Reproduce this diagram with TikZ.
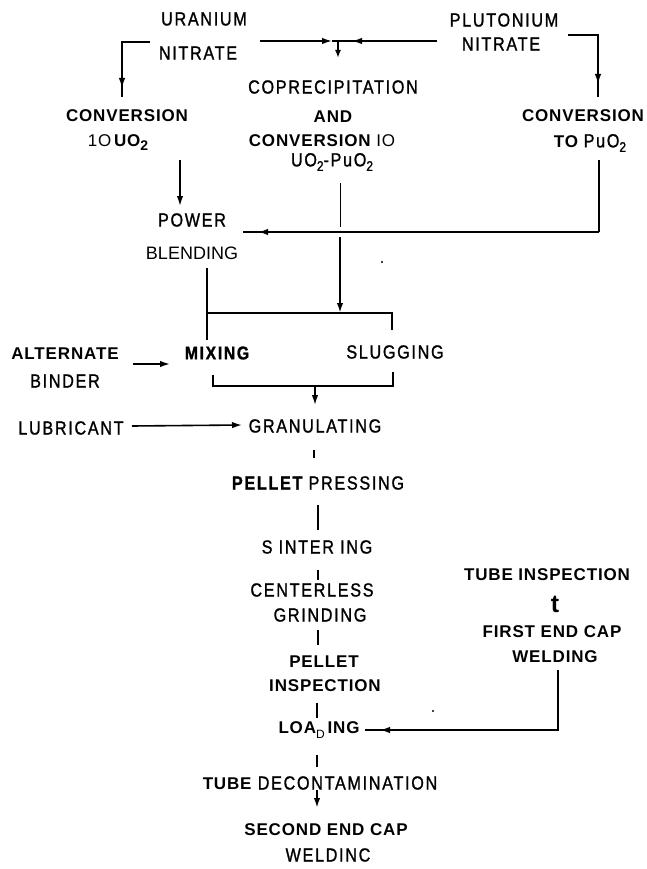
\documentclass[tikz,border=0pt]{standalone}
\usepackage{fontspec}
\setmainfont{Liberation Sans}
\newfontfamily\condf[FakeStretch=0.85,LetterSpace=9,FakeBold=1.2]{Liberation Sans}
\newfontfamily\bldf[LetterSpace=5]{Liberation Sans}
\usetikzlibrary{arrows.meta}
\newcommand{\subtwo}{\raisebox{-0.45ex}{\fontsize{14}{14}\selectfont 2}}
\begin{document}
\begin{tikzpicture}[x=1pt,y=-1pt,
 cnd/.style={inner sep=0pt, font=\condf\fontsize{19}{21}\selectfont},
 cndb/.style={inner sep=0pt, font=\condf\bfseries\fontsize{18.5}{21}\selectfont},
 bd/.style={inner sep=0pt, font=\bldf\bfseries\fontsize{17}{19}\selectfont},
 rg/.style={inner sep=0pt, font=\fontsize{18}{20}\selectfont},
 ln/.style={line width=1.6pt},
 thk/.style={line width=2.4pt},
 thn/.style={line width=1pt},
 tip/.style={-{Latex[length=10pt,width=6.5pt]}}
]
\fill[white] (0,0) rectangle (646,869);
\useasboundingbox (0,0) rectangle (646,869);

% ---- nodes
\node[cnd] (un1) at (204,19) {URANIUM};
\node[cnd] (un2) at (198,53) {NITRATE};
\node[bd] (cv1) at (127,116) {CONVERSION};
\node[bd] (cv1b) at (118,143) {\mdseries 1O\,\bfseries UO\subtwo};
\node[cnd] (cp1) at (333,87) {COPRECIPITATION};
\node[bd] (cp2) at (333,117) {AND};
\node[bd] (cp3) at (322,141) {CONVERSION \mdseries IO};
\node[cnd] (cp4) at (332,162) {UO\subtwo-PuO\subtwo};
\node[cnd] (pn1) at (504,20) {PLUTONIUM};
\node[cnd] (pn2) at (501,44) {NITRATE};
\node[bd] (cv2) at (583,116) {CONVERSION};
\node[bd] (cv2b) at (590,143) {TO {\condf\mdseries\fontsize{19}{21}\selectfont PuO\subtwo}};
\node[cnd] (pow) at (192,220) {POWER};
\node[rg] (bln) at (192,253) {BLENDING};
\node[bd] (alt) at (65,354) {ALTERNATE};
\node[cnd] (bnd) at (65,381) {BINDER};
\node[cndb] (mix) at (217,353) {MIXING};
\node[cnd] (slg) at (395,352) {SLUGGING};
\node[cnd] (lub) at (71,428) {LUBRICANT};
\node[cnd] (grn) at (315,426) {GRANULATING};
\node[cnd] (prs) at (318,483) {{\bfseries PELLET} PRESSING};
\node[cnd] (sin) at (317,547) {S INTER ING};
\node[cnd] (cen) at (312,590) {CENTERLESS};
\node[cnd] (grd) at (320,615) {GRINDING};
\node[bd] (pel) at (324,662) {PELLET};
\node[bd] (ins) at (325,686) {INSPECTION};
\node[bd] (lod) at (319,730) {LOA\raisebox{-0.6ex}{\mdseries\fontsize{12}{12}\selectfont D}\,ING};
\node[cnd] (dec) at (320,783) {{\bldf\bfseries\fontsize{17}{19}\selectfont TUBE} DECONTAMINATION};
\node[bd] (sec) at (326,830) {SECOND END CAP};
\node[cnd] (wdc) at (328,855) {WELDINC};
\node[bd] (tin) at (547,575) {TUBE INSPECTION};
\node[bd, font=\bldf\bfseries\fontsize{25}{25}\selectfont] (tt) at (555,604) {t};
\node[bd] (fec) at (552,632) {FIRST END CAP};
\node[bd] (wld) at (555,657) {WELDING};

% ---- coordinates
\coordinate (a1) at (150,42); \coordinate (a2) at (122,42);
\coordinate (a3) at (122,88); \coordinate (a4) at (122,97);
\coordinate (b1) at (260,41); \coordinate (b2) at (332,41);
\coordinate (bj) at (338,41); \coordinate (b3) at (437,41);
\coordinate (b4) at (352,41); \coordinate (b5) at (338,58);
\coordinate (c1) at (568,35); \coordinate (c2) at (598,35);
\coordinate (c3) at (598,84); \coordinate (c4) at (598,97);
\coordinate (d1) at (180,160); \coordinate (d2) at (180,206);
\coordinate (e1) at (340,183); \coordinate (e2) at (340,227);
\coordinate (f1) at (599,160); \coordinate (f2) at (599,232);
\coordinate (f3) at (243,232); \coordinate (f4) at (258,232);
\coordinate (g1) at (340,237); \coordinate (g2) at (340,313);
\coordinate (h1) at (207,268); \coordinate (h2) at (207,313);
\coordinate (h3) at (207,340); \coordinate (h4) at (392,313);
\coordinate (h5) at (392,330);
\coordinate (i1) at (213,375); \coordinate (i2) at (213,386);
\coordinate (i3) at (393,386); \coordinate (i4) at (393,372);
\coordinate (i5) at (315,386); \coordinate (i6) at (315,405);
\coordinate (j1) at (133,364); \coordinate (j2) at (170,364);
\coordinate (k1) at (132,426); \coordinate (k2) at (242,425);
\coordinate (t1a) at (314,450); \coordinate (t1b) at (314,458);
\coordinate (t2a) at (318,505); \coordinate (t2b) at (318,530);
\coordinate (t3a) at (318,570); \coordinate (t3b) at (318,580);
\coordinate (t4a) at (318,630); \coordinate (t4b) at (318,645);
\coordinate (t5a) at (317,703); \coordinate (t5b) at (317,718);
\coordinate (t6a) at (317,755); \coordinate (t6b) at (317,767);
\coordinate (t7a) at (317,790); \coordinate (t7b) at (317,808);
\coordinate (m1) at (558,670); \coordinate (m2) at (558,730);
\coordinate (m3) at (380,730); \coordinate (m4) at (365,730);

% ---- connectors
\draw[ln] (a1) -- (a2) -- (a4);
\draw[ln,tip] (a2) -- (a3);
\draw[ln,tip] (b1) -- (b2);
\draw[ln] (b2) -- (b3);
\draw[ln,tip] (b3) -- (b4);
\draw[ln,-{Latex[length=8pt,width=6pt]}] (bj) -- (b5);
\draw[ln] (c1) -- (c2) -- (c4);
\draw[ln,tip] (c2) -- (c3);
\draw[ln,tip] (d1) -- (d2);
\draw[thn] (e1) -- (e2);
\draw[ln] (f1) -- (f2);
\draw[thk] (f2) -- (f3);
\draw[thk,tip] (f2) -- (f4);
\draw[thk,tip] (g1) -- (g2);
\draw[ln] (h1) -- (h3);
\draw[ln] (h2) -- (h4) -- (h5);
\draw[ln] (i1) -- (i2) -- (i3) -- (i4);
\draw[ln,tip] (i5) -- (i6);
\draw[ln,tip] (j1) -- (j2);
\draw[ln,tip] (k1) -- (k2);
\draw[thk] (t1a) -- (t1b);
\draw[thk] (t2a) -- (t2b);
\draw[thk] (t3a) -- (t3b);
\draw[thk] (t4a) -- (t4b);
\draw[thk] (t5a) -- (t5b);
\draw[thk] (t6a) -- (t6b);
\draw[thk,tip] (t7a) -- (t7b);
\draw[ln] (m1) -- (m2) -- (m4);
\draw[ln,tip] (m2) -- (m3);
\fill (382,262) circle (1.2pt);
\fill (433,711) circle (1.2pt);
\end{tikzpicture}
\end{document}
